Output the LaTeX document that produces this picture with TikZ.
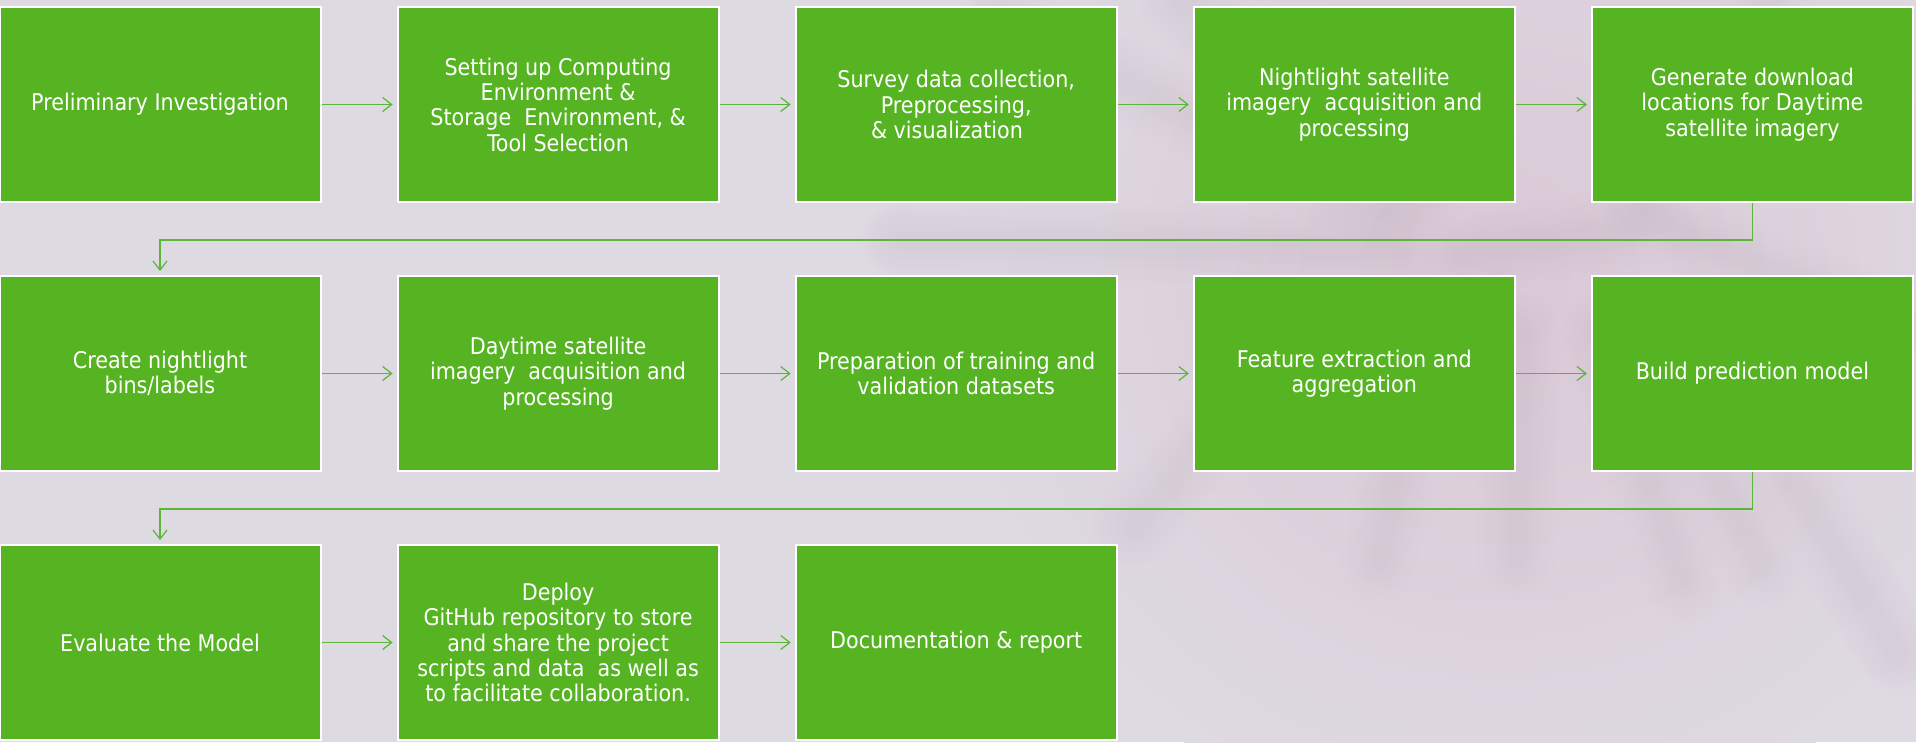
\documentclass[tikz,border=0pt]{standalone}
\usepackage{fontspec}
\setmainfont{DejaVu Sans Condensed}
\usetikzlibrary{arrows.meta}
\definecolor{bgcol}{RGB}{222,218,226}
\definecolor{boxgreen}{RGB}{86,180,34}
\definecolor{linegreen}{RGB}{92,180,58}
\definecolor{pinkc}{RGB}{205,150,185}
\definecolor{washc}{RGB}{218,200,214}
\tikzset{
  stepbox/.style={draw=white, line width=2pt, fill=boxgreen, minimum width=321pt,
    minimum height=195pt, inner sep=0pt, align=center, text=white,
    font=\fontsize{23}{25.3}\selectfont},
  flow/.style={draw=linegreen, line width=1.4pt,
    -{Straight Barb[length=9pt,width=14pt,line width=1.2pt]}, shorten >=4pt},
  soft/.style={pinkc, line cap=round, opacity=0.014}
}
\newcommand{\softline}[2]{%
  \foreach \w in {80,70,60,50,40,32,24,16}{\draw[soft, line width=\w pt] (#1) -- (#2);}}
\begin{document}
\begin{tikzpicture}[x=1pt,y=-1pt]
\fill[bgcol] (0,0) rectangle (1916,742);
\useasboundingbox (0,0) rectangle (1916,742);
% soft background wash
\begin{scope}
\clip (0,0) rectangle (1916,742);
\shade[inner color=washc, outer color=bgcol] (1500,280) circle (560);
\end{scope}
% soft background pattern
\softline{1300,330}{1133,527}
\softline{1420,320}{1380,563}
\softline{1520,330}{1516,560}
\softline{1600,330}{1684,583}
\softline{1640,320}{1762,567}
\softline{1700,330}{1898,653}
\softline{1380,210}{1000,20}
\softline{1420,200}{1180,0}
\softline{1640,200}{1770,0}
\softline{1700,240}{1916,330}
\softline{1400,250}{900,240}
\softline{1460,255}{1660,225}
% boxes
\node[stepbox] (b1) at (160,104.5) {Preliminary Investigation};
\node[stepbox] (b2) at (558.1,104.5) {Setting up Computing\\Environment \&\\Storage\ \ Environment, \&\\Tool Selection};
\node[stepbox] (b3) at (956.2,104.5) {Survey data collection,\\Preprocessing,\\\& visualization\hspace{0.8em}\ };
\node[stepbox] (b4) at (1354.3,104.5) {Nightlight satellite\\imagery\ \ acquisition and\\processing};
\node[stepbox] (b5) at (1752.4,104.5) {Generate download\\locations for Daytime\\satellite imagery};
\node[stepbox] (b6) at (160,373.5) {Create nightlight\\bins/labels};
\node[stepbox] (b7) at (558.1,373.5) {Daytime satellite\\imagery\ \ acquisition and\\processing};
\node[stepbox] (b8) at (956.2,373.5) {Preparation of training and\\validation datasets};
\node[stepbox] (b9) at (1354.3,373.5) {Feature extraction and\\aggregation};
\node[stepbox] (b10) at (1752.4,373.5) {Build prediction model};
\node[stepbox] (b11) at (160,642.5) {Evaluate the Model};
\node[stepbox] (b12) at (558.1,642.5) {Deploy\\GitHub repository to store\\and share the project\\scripts and data\ \ as well as\\to facilitate collaboration.};
\node[stepbox] (b13) at (956.2,642.5) {Documentation \& report};
% connectors
\draw[flow] (b1.east) -- (b2.west);
\draw[flow] (b2.east) -- (b3.west);
\draw[flow] (b3.east) -- (b4.west);
\draw[flow] (b4.east) -- (b5.west);
\draw[flow] (b5.south) -- ++(0,37) -| (b6.north);
\draw[flow] (b6.east) -- (b7.west);
\draw[flow] (b7.east) -- (b8.west);
\draw[flow] (b8.east) -- (b9.west);
\draw[flow] (b9.east) -- (b10.west);
\draw[flow] (b10.south) -- ++(0,37) -| (b11.north);
\draw[flow] (b11.east) -- (b12.west);
\draw[flow] (b12.east) -- (b13.west);
\end{tikzpicture}
\end{document}
